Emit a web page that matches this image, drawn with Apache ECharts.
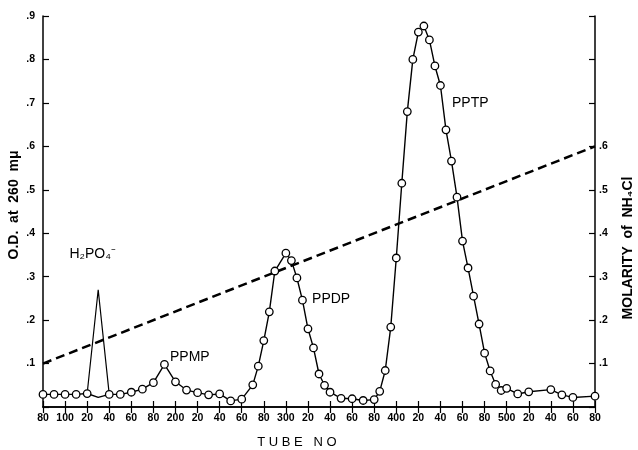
<!DOCTYPE html>
<html lang="en">
<head>
    <meta charset="UTF-8">
    <title>Tube elution profile</title>
    <script type="text/javascript" src="https://cdn.jsdelivr.net/npm/echarts@6/dist/echarts.min.js"></script>
    <style>
        html, body { margin: 0; padding: 0; background: #fff; }
        #main { width: 638px; height: 450px; }
    </style>
</head>
<body>
<div id="main"></div>
<script type="text/javascript">
    // tube numbers and O.D. readings (open circles)
    var tubes = [80, 90, 100, 110, 120, 130, 140, 150, 160, 170, 180, 190, 200, 210, 220, 230, 240, 250, 260,
        270, 275, 280, 285, 290, 300, 305, 310, 315, 320, 325, 330, 335, 340, 350, 360, 370, 380, 385, 390, 395,
        400, 405, 410, 415, 420, 425, 430, 435, 440, 445, 450, 455, 460, 465, 470, 475, 480, 485, 490, 495,
        500, 510, 520, 540, 550, 560, 580];
    var od = [0.029, 0.029, 0.029, 0.029, 0.031, 0.022, 0.029, 0.029, 0.034, 0.041, 0.056, 0.098, 0.058, 0.039, 0.033, 0.028, 0.030, 0.014, 0.018,
        0.051, 0.094, 0.153, 0.219, 0.313, 0.354, 0.337, 0.297, 0.246, 0.180, 0.136, 0.076, 0.050, 0.034, 0.020, 0.019, 0.015, 0.017, 0.036, 0.084, 0.184,
        0.343, 0.515, 0.680, 0.800, 0.863, 0.877, 0.845, 0.785, 0.740, 0.638, 0.566, 0.483, 0.382, 0.320, 0.255, 0.191, 0.124, 0.083, 0.052, 0.038,
        0.043, 0.030, 0.035, 0.040, 0.028, 0.022, 0.025];
    var noCircle = [130]; // line passes here without a reading

    // H2PO4- peak (drawn as a plain triangle)
    var phosTubes = [120, 130, 140];
    var phosOd = [0.031, 0.27, 0.029];

    // NH4Cl gradient (dashed)
    var gradTubes = [80, 580];
    var gradM = [0.1, 0.6];

    // peak names, placed at tube / O.D.
    var peakNames = ['H₂PO₄⁻', 'PPMP', 'PPDP', 'PPTP'];
    var peakTube = [125, 213, 341, 467];
    var peakOd = [0.352, 0.115, 0.248, 0.699];

    var font = 'Liberation Sans';
    var ink = '#000';

    var mainData = tubes.map(function (t, i) {
        var item = {value: [t, od[i]]};
        if (noCircle.indexOf(t) >= 0) item.symbol = 'none';
        return item;
    });

    var myChart = echarts.init(document.getElementById('main'));
    myChart.setOption({
        animation: false,
        backgroundColor: '#fff',
        grid: {left: 43, right: 43, top: 16, bottom: 43},
        xAxis: [{
            type: 'value', position: 'bottom', min: 80, max: 580, interval: 20,
            axisLine: {lineStyle: {color: ink, width: 1.5}},
            axisTick: {inside: true, length: 6, lineStyle: {color: ink, width: 1.2}},
            splitLine: {show: false},
            axisLabel: {
                color: ink, fontFamily: font, fontSize: 10.5, fontWeight: 'bold', margin: 6,
                formatter: function (v) { return v % 100 === 0 ? String(v) : String(v % 100); }
            }
        }, {
            type: 'value', position: 'top', min: 80, max: 580, interval: 20,
            axisLine: {lineStyle: {color: ink, width: 1.5}},
            axisTick: {inside: true, length: 6, lineStyle: {color: ink, width: 1.2}},
            splitLine: {show: false},
            axisLabel: {show: false}
        }],
        yAxis: [{
            type: 'value', position: 'left', min: 0, max: 0.9, interval: 0.1,
            axisLine: {show: true, lineStyle: {color: ink, width: 1.5}},
            axisTick: {show: true, inside: true, length: 6, lineStyle: {color: ink, width: 1.2}},
            splitLine: {show: false},
            axisLabel: {
                color: ink, fontFamily: font, fontSize: 10.5, fontWeight: 'bold', margin: 8,
                formatter: function (v) { var n = Math.round(v * 10); return n === 0 ? '' : '.' + n; }
            }
        }, {
            type: 'value', position: 'right', min: 0, max: 0.9, interval: 0.1,
            axisLine: {show: true, lineStyle: {color: ink, width: 1.5}},
            axisTick: {show: true, inside: true, length: 6, lineStyle: {color: ink, width: 1.2}},
            splitLine: {show: false},
            axisLabel: {
                color: ink, fontFamily: font, fontSize: 10.5, fontWeight: 'bold', margin: 4,
                formatter: function (v) { var n = Math.round(v * 10); return (n === 0 || n > 6) ? '' : '.' + n; }
            }
        }],
        graphic: [
            {type: 'text', x: 14, y: 205, rotation: Math.PI / 2,
                style: {text: 'O.D.  at  260  mμ', font: 'bold 14px ' + font, fill: ink, align: 'center', verticalAlign: 'middle'}},
            {type: 'text', x: 628, y: 248, rotation: Math.PI / 2,
                style: {text: 'MOLARITY  of  NH₄Cl', font: 'bold 14px ' + font, fill: ink, align: 'center', verticalAlign: 'middle'}},
            {type: 'text', x: 297, y: 442,
                style: {text: 'T U B E   N O', font: '13px ' + font, fill: ink, align: 'center', verticalAlign: 'middle'}}
        ],
        series: [{
            name: 'gradient', type: 'line', yAxisIndex: 1, symbol: 'none', silent: true,
            lineStyle: {color: ink, width: 2.5, type: [9, 5]},
            data: gradTubes.map(function (t, i) { return [t, gradM[i]]; })
        }, {
            name: 'phosphate', type: 'line', symbol: 'none', silent: true,
            lineStyle: {color: ink, width: 1.2},
            data: phosTubes.map(function (t, i) { return [t, phosOd[i]]; })
        }, {
            name: 'OD', type: 'line', symbol: 'circle', symbolSize: 7.5, silent: true,
            lineStyle: {color: ink, width: 1.4},
            itemStyle: {color: '#fff', borderColor: ink, borderWidth: 1.3},
            data: mainData,
            z: 3
        }, {
            name: 'names', type: 'scatter', symbolSize: 0, silent: true,
            itemStyle: {color: ink, opacity: 1},
            label: {
                show: true, position: 'inside', color: ink, opacity: 1, fontFamily: font, fontSize: 14,
                textBorderWidth: 0,
                formatter: function (p) { return peakNames[p.dataIndex]; }
            },
            data: peakTube.map(function (t, i) { return [t, peakOd[i]]; })
        }]
    });
</script>
</body>
</html>
